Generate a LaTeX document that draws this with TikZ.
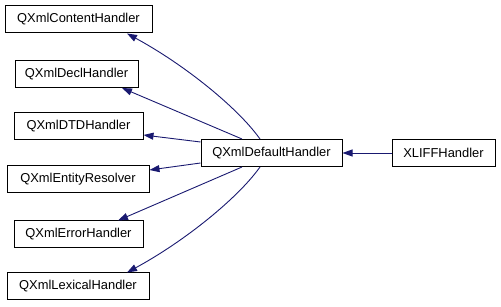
\documentclass[tikz,border=0pt]{standalone}
\usepackage{fontspec}
\setmainfont{Liberation Sans}
\usetikzlibrary{arrows.meta,calc}
\definecolor{edgeblue}{HTML}{191970}
\begin{document}
\begin{tikzpicture}[x=1pt,y=-1pt,
  cls/.style={draw=black,line width=1pt,fill=white,inner sep=0pt,minimum height=27pt,
    font=\fontsize{12.9}{14}\selectfont},
  inh/.style={draw=edgeblue,line width=0.9pt,-{Triangle[length=10pt,width=7pt]}}]
\useasboundingbox (0,0) rectangle (501,307);
\node[cls,minimum width=147pt] (c) at (78.5,19.5) {QXmlContentHandler};
\node[cls,minimum width=123pt] (decl) at (76.5,74) {QXmlDeclHandler};
\node[cls,minimum width=129pt] (dtd) at (78.5,126.5) {QXmlDTDHandler};
\node[cls,minimum width=142pt] (ent) at (78,179.5) {QXmlEntityResolver};
\node[cls,minimum width=129pt] (err) at (78.5,234.5) {QXmlErrorHandler};
\node[cls,minimum width=142pt] (lex) at (78,286.5) {QXmlLexicalHandler};
\node[cls,minimum width=141pt] (d) at (271.5,153) {QXmlDefaultHandler};
\node[cls,minimum width=103pt] (x) at (443.5,153) {XLIFFHandler};
\draw[inh] (x.west) -- (d.east);
\draw[inh] ([xshift=-11.5pt]d.north) .. controls (238,108) and (185,65) .. ([xshift=48.5pt]c.south);
\draw[inh] ([xshift=-29.5pt]d.north) -- ([xshift=45.5pt]decl.south);
\draw[inh] ([yshift=11pt]d.west) -- ([yshift=-8.5pt]dtd.east);
\draw[inh] ([yshift=-10pt]d.west) -- ([yshift=9.5pt]ent.east);
\draw[inh] ([xshift=-29.5pt]d.south) -- ([xshift=39.5pt]err.north);
\draw[inh] ([xshift=-11.5pt]d.south) .. controls (238,198) and (185,241) .. ([xshift=49pt]lex.north);
\end{tikzpicture}
\end{document}
